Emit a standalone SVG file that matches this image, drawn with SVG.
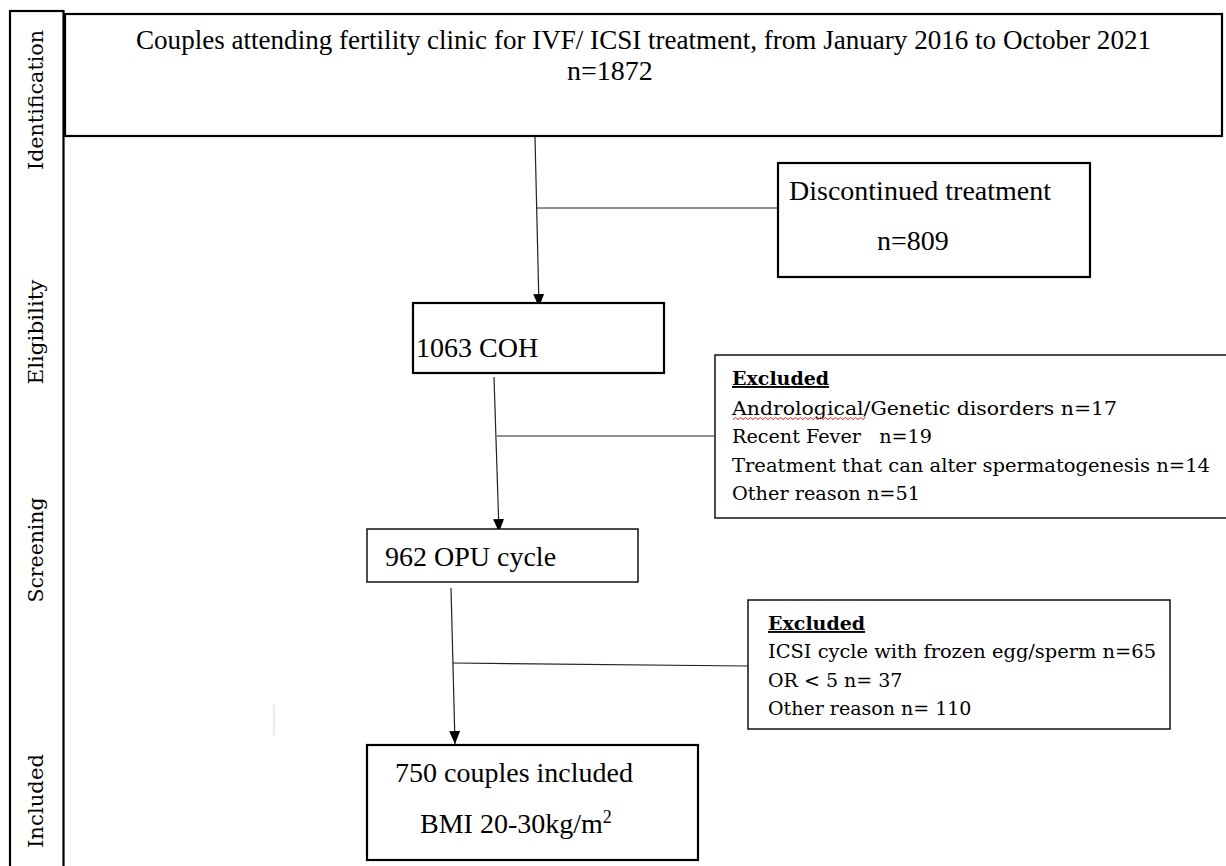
<svg xmlns="http://www.w3.org/2000/svg" width="1226" height="866" viewBox="0 0 1226 866">
  <style>
    .box { fill: #ffffff; stroke: #000000; stroke-width: 2.2; }
    .thin { fill: #ffffff; stroke: #000000; stroke-width: 1.4; }
    .conn { fill: none; stroke: #222222; stroke-width: 1.2; }
    .tnr { font-family: "Liberation Serif", "Times New Roman", serif; font-size: 28px; fill: #000000; }
    .pal { font-family: "DejaVu Serif", "Liberation Serif", serif; font-size: 19px; fill: #000000; }
    .stage { font-family: "DejaVu Serif", "Liberation Serif", serif; font-size: 21px; fill: #000000; }
    .head { font-weight: bold; text-decoration: underline; }
  </style>
  <defs>
    <marker id="arrow" viewBox="0 0 13 11" refX="13" refY="5.5" markerWidth="13" markerHeight="11" markerUnits="userSpaceOnUse" orient="auto">
      <path d="M0,0 L13,5.5 L0,11 z" fill="#000000"/>
    </marker>
  </defs>

  <rect width="1226" height="866" fill="#ffffff"/>

  <!-- stage column on the left -->
  <g id="stages">
    <rect class="box" x="10" y="11" width="53.5" height="870"/>
    <text class="stage" transform="translate(43,100) rotate(-90)" text-anchor="middle" textLength="140" lengthAdjust="spacingAndGlyphs">Identification</text>
    <text class="stage" transform="translate(43,332) rotate(-90)" text-anchor="middle" textLength="105" lengthAdjust="spacingAndGlyphs">Eligibility</text>
    <text class="stage" transform="translate(43,550) rotate(-90)" text-anchor="middle" textLength="105" lengthAdjust="spacingAndGlyphs">Screening</text>
    <text class="stage" transform="translate(43,801) rotate(-90)" text-anchor="middle" textLength="94" lengthAdjust="spacingAndGlyphs">Included</text>
  </g>

  <!-- connectors -->
  <g id="connectors">
    <line class="conn" x1="535" y1="137" x2="539" y2="307" marker-end="url(#arrow)"/>
    <line class="conn" x1="536" y1="208" x2="778" y2="208"/>
    <line class="conn" x1="494" y1="377" x2="499" y2="532" marker-end="url(#arrow)"/>
    <line class="conn" x1="497" y1="436" x2="714" y2="436"/>
    <line class="conn" x1="451" y1="588" x2="455" y2="744" marker-end="url(#arrow)"/>
    <line class="conn" x1="453" y1="663" x2="748" y2="666"/>
    <line x1="274" y1="705" x2="274" y2="735" stroke="#dddddd" stroke-width="1.2"/>
  </g>

  <g id="identified">
    <rect class="box" x="65" y="14" width="1157" height="122"/>
    <text class="tnr" x="136" y="49" font-size="27" textLength="1015" lengthAdjust="spacingAndGlyphs">Couples attending fertility clinic for IVF/ ICSI treatment, from January 2016 to October 2021</text>
    <text class="tnr" x="567" y="80" font-size="27">n=1872</text>
  </g>

  <g id="discontinued">
    <rect class="box" x="778" y="163" width="312" height="114"/>
    <text class="tnr" x="789" y="200">Discontinued treatment</text>
    <text class="tnr" x="877" y="250">n=809</text>
  </g>

  <g id="coh">
    <rect class="box" x="413" y="303" width="251" height="70"/>
    <text class="tnr" x="416" y="357">1063 COH</text>
  </g>

  <g id="excluded-1">
    <rect class="thin" x="715" y="355" width="515" height="163"/>
    <text class="pal head" x="732" y="385">Excluded</text>
    <text class="pal" x="732" y="415" textLength="385" lengthAdjust="spacingAndGlyphs">Andrological/Genetic disorders n=17</text>
    <path d="M733,419.5 l2.5,-2 l2.5,2 l2.5,-2 l2.5,2 l2.5,-2 l2.5,2 l2.5,-2 l2.5,2 l2.5,-2 l2.5,2 l2.5,-2 l2.5,2 l2.5,-2 l2.5,2 l2.5,-2 l2.5,2 l2.5,-2 l2.5,2 l2.5,-2 l2.5,2 l2.5,-2 l2.5,2 l2.5,-2 l2.5,2 l2.5,-2 l2.5,2 l2.5,-2 l2.5,2 l2.5,-2 l2.5,2 l2.5,-2 l2.5,2 l2.5,-2 l2.5,2 l2.5,-2 l2.5,2 l2.5,-2 l2.5,2 l2.5,-2 l2.5,2 l2.5,-2 l2.5,2 l2.5,-2 l2.5,2 l2.5,-2 l2.5,2 l2.5,-2 l2.5,2 l2.5,-2 l2.5,2 l2.5,-2 l2.5,2 l2.5,-2" fill="none" stroke="#e02020" stroke-width="1"/>
    <text class="pal" x="732" y="443" xml:space="preserve" textLength="200" lengthAdjust="spacingAndGlyphs">Recent Fever   n=19</text>
    <text class="pal" x="732" y="472" textLength="478" lengthAdjust="spacingAndGlyphs">Treatment that can alter spermatogenesis n=14</text>
    <text class="pal" x="732" y="500" textLength="188" lengthAdjust="spacingAndGlyphs">Other reason n=51</text>
  </g>

  <g id="opu">
    <rect class="thin" x="367" y="529" width="271" height="53"/>
    <text class="tnr" x="385" y="566">962 OPU cycle</text>
  </g>

  <g id="excluded-2">
    <rect class="thin" x="748" y="600" width="422" height="129"/>
    <text class="pal head" x="768" y="630">Excluded</text>
    <text class="pal" x="768" y="658" textLength="388" lengthAdjust="spacingAndGlyphs">ICSI cycle with frozen egg/sperm n=65</text>
    <text class="pal" x="768" y="687">OR &lt; 5 n= 37</text>
    <text class="pal" x="768" y="715">Other reason n= 110</text>
  </g>

  <g id="included">
    <rect class="box" x="367" y="745" width="331" height="115"/>
    <text class="tnr" x="395" y="782">750 couples included</text>
    <text class="tnr" x="420" y="833">BMI 20-30kg/m<tspan font-size="18" dy="-10">2</tspan></text>
  </g>
</svg>
